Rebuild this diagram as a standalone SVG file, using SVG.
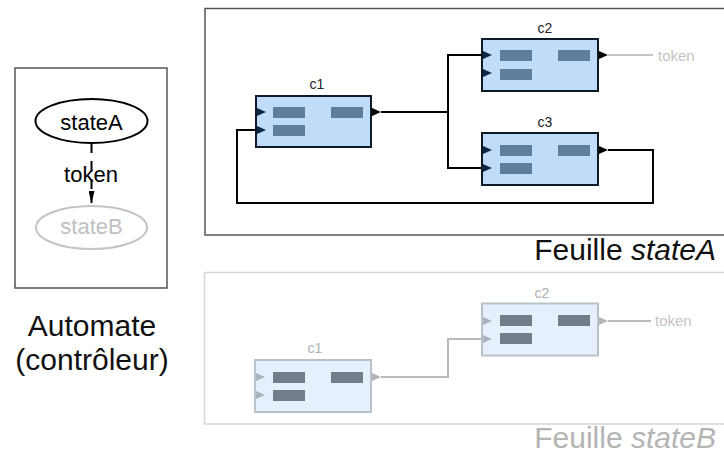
<svg xmlns="http://www.w3.org/2000/svg" width="724" height="455" viewBox="0 0 724 455">
<style>
text{font-family:"Liberation Sans",Arial,Helvetica,sans-serif}
.frame{fill:none;stroke:#555;stroke-width:1.5}
.frameB{fill:none;stroke:#d6d6d6;stroke-width:1.5}
.big{font-size:30px;fill:#111}
.bigB{font-size:30px;fill:#b4b4b4}
.st{font-size:22px;text-anchor:middle}
.lbl{font-size:14px;text-anchor:middle;fill:#222}
.lblB{font-size:14px;text-anchor:middle;fill:#b0b0b0}
.tok{font-size:15px;fill:#c4c4c4}
.blk{fill:#c0dcf8;stroke:#0e1a2a;stroke-width:2}
.blkB{fill:#e5f0fc;stroke:#b8c2cb;stroke-width:2}
.bar{fill:#5f7e9e}
.barB{fill:#717d8a}
.pin{fill:#0d2746}
.pout{fill:#000}
.pinB{fill:#a9b3bd}
.poutB{fill:#b4b4b4}
.w{fill:none;stroke:#000;stroke-width:2}
.wB{fill:none;stroke:#bababa;stroke-width:2}
.wT{fill:none;stroke:#c4c4c4;stroke-width:2}
</style>
<defs>
<marker id="arr" viewBox="0 0 12 6" refX="12" refY="3" markerWidth="12" markerHeight="6" markerUnits="userSpaceOnUse" orient="auto">
<path d="M0,0 L12,3 L0,6 Z" fill="#000"/>
</marker>
</defs>

<!-- Automate -->
<g id="automate">
<rect class="frame" x="15" y="68" width="152" height="220"/>
<text class="big" x="92" y="336" text-anchor="middle">Automate</text>
<text class="big" x="92" y="370" text-anchor="middle">(contrôleur)</text>
</g>
<g id="stateA">
<ellipse cx="91.5" cy="121" rx="56" ry="22" fill="#fff" stroke="#000" stroke-width="2"/>
<text class="st" x="91.5" y="130" fill="#000">stateA</text>
</g>
<g id="stateB">
<ellipse cx="91.5" cy="227.5" rx="55.5" ry="21.5" fill="#fff" stroke="#c4c4c4" stroke-width="2"/>
<text class="st" x="91.5" y="234" fill="#c0c0c0">stateB</text>
</g>

<!-- Sheet A -->
<g id="sheetA">
<rect class="frame" x="205" y="8.5" width="540" height="226.5"/>
<text class="big" x="716" y="260" text-anchor="end">Feuille <tspan font-style="italic">stateA</tspan></text>
</g>

<g id="connectors">
<path d="M91.5,143 V203" fill="none" stroke="#000" stroke-width="2" stroke-dasharray="10,8" marker-end="url(#arr)"/>
<text class="st" x="91" y="182" fill="#000">token</text>
<path class="w" d="M381,112 H448"/>
<path class="w" d="M482,55 H448 V168 H482"/>
<path class="w" d="M608,150 H653 V203 H237 V130 H256"/>
<path class="wT" d="M608,55 H653"/>
<path class="wB" d="M381,377 H448 V339 H482"/>
<path class="wB" d="M608,321 H651"/>
</g>

<g id="A-c1">
<text class="lbl" x="317" y="89">c1</text>
<rect class="blk" x="256" y="96" width="115" height="51"/>
<rect class="bar" x="273" y="107" width="32" height="11"/>
<rect class="bar" x="273" y="125" width="32" height="11"/>
<rect class="bar" x="331" y="107" width="32" height="11"/>
<path class="pin" d="M257,108 L266,112 L257,116 Z"/>
<path class="pin" d="M257,126 L266,130 L257,134 Z"/>
<path class="pout" d="M372,108 L381,112 L372,116 Z"/>
</g>
<g id="A-c2">
<text class="lbl" x="545" y="33">c2</text>
<rect class="blk" x="482" y="39" width="116" height="52"/>
<rect class="bar" x="500" y="50" width="32" height="11"/>
<rect class="bar" x="500" y="69" width="32" height="11"/>
<rect class="bar" x="558" y="50" width="32" height="11"/>
<path class="pin" d="M483,51 L492,55 L483,59 Z"/>
<path class="pin" d="M483,69 L492,73 L483,77 Z"/>
<path class="pout" d="M599,51 L608,55 L599,59 Z"/>
</g>
<g id="A-c3">
<text class="lbl" x="545" y="127">c3</text>
<rect class="blk" x="482" y="133" width="116" height="52"/>
<rect class="bar" x="500" y="145" width="32" height="11"/>
<rect class="bar" x="500" y="163" width="32" height="11"/>
<rect class="bar" x="558" y="145" width="32" height="11"/>
<path class="pin" d="M483,146 L492,150 L483,154 Z"/>
<path class="pin" d="M483,164 L492,168 L483,172 Z"/>
<path class="pout" d="M599,146 L608,150 L599,154 Z"/>
</g>
<g id="A-token">
<text class="tok" x="658" y="61">token</text>
</g>

<!-- Sheet B -->
<g id="sheetB">
<rect class="frameB" x="204.5" y="272.5" width="540" height="151.5"/>
<text class="bigB" x="716" y="448" text-anchor="end">Feuille <tspan font-style="italic">stateB</tspan></text>
</g>
<g id="B-c1">
<text class="lblB" x="315" y="353">c1</text>
<rect class="blkB" x="255" y="360" width="116" height="52"/>
<rect class="barB" x="273" y="372" width="32" height="11"/>
<rect class="barB" x="273" y="390" width="32" height="11"/>
<rect class="barB" x="331" y="372" width="32" height="11"/>
<path class="pinB" d="M256,373 L265,377 L256,381 Z"/>
<path class="pinB" d="M256,391 L265,395 L256,399 Z"/>
<path class="poutB" d="M372,373 L381,377 L372,381 Z"/>
</g>
<g id="B-c2">
<text class="lblB" x="542" y="298">c2</text>
<rect class="blkB" x="482" y="303.5" width="116" height="52"/>
<rect class="barB" x="500" y="315" width="32" height="11"/>
<rect class="barB" x="500" y="333" width="32" height="11"/>
<rect class="barB" x="558" y="315" width="32" height="11"/>
<path class="pinB" d="M483,317 L492,321 L483,325 Z"/>
<path class="pinB" d="M483,335 L492,339 L483,343 Z"/>
<path class="poutB" d="M599,317 L608,321 L599,325 Z"/>
</g>
<g id="B-token">
<text class="tok" x="655" y="326">token</text>
</g>
</svg>
